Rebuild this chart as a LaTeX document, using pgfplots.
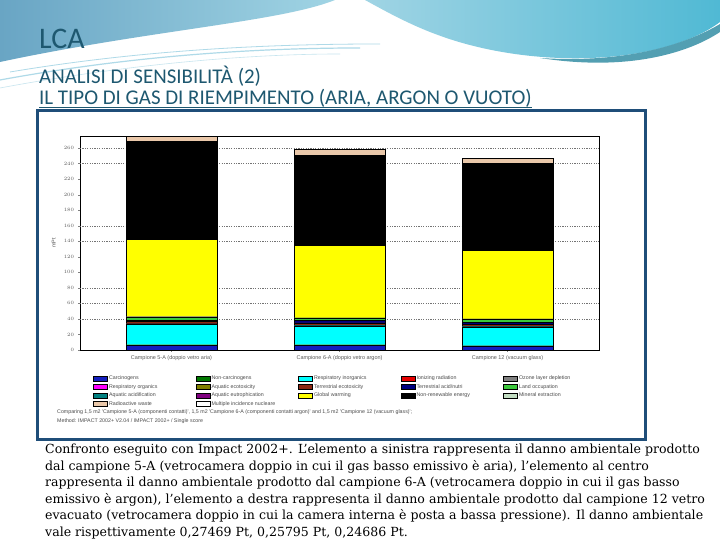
\documentclass[border=0pt]{standalone}
\usepackage{pgfplots}
\pgfplotsset{compat=1.18}
\usepackage{fontspec}
\setmainfont{DejaVu Serif}
\newfontfamily\titlefont{Carlito}
\newfontfamily\chartfont{Liberation Sans}

\definecolor{titleblue}{RGB}{30,88,112}
\definecolor{boxblue}{RGB}{31,78,121}
\definecolor{decoA}{RGB}{105,165,196}
\definecolor{decoB}{RGB}{160,212,228}
\definecolor{decoC}{RGB}{80,185,212}
\definecolor{decoL}{RGB}{175,218,232}
\definecolor{cCarc}{RGB}{20,30,190}
\definecolor{cNonc}{RGB}{0,120,0}
\definecolor{cRespI}{RGB}{0,255,255}
\definecolor{cIon}{RGB}{230,0,0}
\definecolor{cOzone}{RGB}{128,128,128}
\definecolor{cRespO}{RGB}{255,0,255}
\definecolor{cAqEco}{RGB}{128,128,0}
\definecolor{cTerEco}{RGB}{140,40,20}
\definecolor{cTerAc}{RGB}{0,0,128}
\definecolor{cLand}{RGB}{60,200,60}
\definecolor{cAqAc}{RGB}{0,128,128}
\definecolor{cAqEu}{RGB}{128,0,128}
\definecolor{cGW}{RGB}{255,255,0}
\definecolor{cNRE}{RGB}{0,0,0}
\definecolor{cMin}{RGB}{195,222,195}
\definecolor{cRad}{RGB}{234,200,170}

\newcommand{\lt}[1]{\makebox[85bp][l]{#1}}

\begin{document}
\begin{tikzpicture}[x=1bp,y=1bp]
\useasboundingbox (0,0) rectangle (720,540);
\fill[white] (0,0) rectangle (720,540);

\begin{scope}[yshift=540bp, yscale=-1]
% slide decoration
\shade[left color=decoA, right color=decoB]
  (0,0) -- (335,0) .. controls (280,22) and (150,30) .. (0,62) -- cycle;
\shade[left color=decoB, right color=decoC]
  (365,0) -- (720,0) -- (720,22) .. controls (680,52) and (600,66) .. (515,54)
  .. controls (445,44) and (405,22) .. (365,0) -- cycle;
\fill[decoC!80!black!90]
  (540,58) .. controls (630,64) and (690,42) .. (720,24) -- (720,32)
  .. controls (690,52) and (630,72) .. (540,58) -- cycle;
\draw[decoL, line width=1.2bp] (0,80) .. controls (120,58) and (240,48) .. (360,48);
\draw[decoL, line width=0.8bp] (10,72) .. controls (130,52) and (250,44) .. (380,44);
\draw[decoL!70!white, line width=0.6bp] (0,88) .. controls (140,62) and (260,54) .. (340,54);

% titles
\node[anchor=base west, inner sep=0, text=titleblue, font=\titlefont\fontsize{30}{30}\selectfont] at (39,49) {LCA};
\node[anchor=base west, inner sep=0, text=titleblue, font=\titlefont\fontsize{21}{21}\selectfont] at (39,84) {ANALISI DI SENSIBILITÀ (2)};
\node[anchor=base west, inner sep=0, text=titleblue, font=\titlefont\fontsize{21}{21}\selectfont] (t3) at (39,105) {IL TIPO DI GAS DI RIEMPIMENTO (ARIA, ARGON O VUOTO)};
\draw[titleblue, line width=1.1bp] (39,107.5) -- (t3.east |- 0,107.5);

% frame round the chart
\draw[boxblue, line width=3bp] (37,111) rectangle (645,440);

% footnote of the chart
\node[anchor=base west, inner sep=0, text=black!70, font=\chartfont\fontsize{5.3}{6}\selectfont] at (57,414)
  {Comparing 1,5 m2 'Campione 5-A (componenti contatti)', 1,5 m2 'Campione 6-A (componenti contatti argon)' and 1,5 m2 'Campione 12 (vacuum glass)';};
\node[anchor=base west, inner sep=0, text=black!70, font=\chartfont\fontsize{5.3}{6}\selectfont] at (57,423)
  {Method: IMPACT 2002+ V2.04 / IMPACT 2002+ / Single score};

% text under the chart
\begin{scope}[every node/.style={anchor=base west, inner sep=0, font=\fontsize{12.6}{15}\selectfont}]
\node at (45,454) {Confronto eseguito con Impact 2002+. L'elemento a sinistra rappresenta il danno ambientale prodotto};
\node at (45,470.5) {dal campione 5-A (vetrocamera doppio in cui il gas basso emissivo è aria), l'elemento al centro};
\node at (45,487) {rappresenta il danno ambientale prodotto dal campione 6-A (vetrocamera doppio in cui il gas basso};
\node at (45,503.5) {emissivo è argon), l'elemento a destra rappresenta il danno ambientale prodotto dal campione 12 vetro};
\node at (45,520) {evacuato (vetrocamera doppio in cui la camera interna è posta a bassa pressione). Il danno ambientale};
\node at (45,536.5) {vale rispettivamente 0,27469 Pt, 0,25795 Pt, 0,24686 Pt.};
\end{scope}
\end{scope}

\begin{axis}[
  at={(80bp,190bp)}, anchor=south west,
  width=519bp, height=214bp, scale only axis,
  ybar stacked, bar width=0.54,
  xmin=-0.544, xmax=2.544, ymin=0, ymax=275.5,
  xtick={0,1,2},
  xticklabels={Campione 5-A (doppio vetro aria), Campione 6-A (doppio vetro argon), Campione 12 (vacuum glass)},
  ytick={0,20,...,260},
  extra y ticks={40,60,80,140,160,240,260}, extra y tick labels={},
  extra y tick style={grid=major, major tick length=0pt},
  grid style={dash pattern=on 1.2bp off 1.2bp, black!55, line width=0.4bp},
  tick label style={font=\chartfont\fontsize{5.5}{6}\selectfont, text=black!65},
  ylabel={mPt}, ylabel style={font=\chartfont\fontsize{5.5}{6}\selectfont, text=black!65, at={(axis description cs:-0.04,0.5)}},
  axis line style={line width=0.6bp},
  major tick length=2bp, tick align=outside, ytick pos=left, xtick pos=bottom,
  yticklabel style={xshift=-0.5bp},
  legend columns=5,
  legend cell align=left,
  legend style={at={(axis description cs:0.025,-0.112)}, anchor=north west, draw=none, fill=none,
    inner sep=0pt, row sep=0pt, column sep=0pt,
    font=\chartfont\fontsize{5.3}{6}\selectfont, text=black!70,
    nodes={inner sep=1.6bp}},
  legend image code/.code={\draw[#1, draw=black, line width=0.3bp] (0bp,-2.6bp) rectangle (14bp,2.6bp);},
  every axis plot/.append style={draw=black, line width=0.25bp},
]
\addplot[fill=cCarc] coordinates {(0,6.4) (1,6.4) (2,5.2)};
\addlegendentry{\lt{Carcinogens}}
\addplot[fill=cNonc] coordinates {(0,0.5) (1,0.5) (2,0.4)};
\addlegendentry{\lt{Non-carcinogens}}
\addplot[fill=cRespI] coordinates {(0,26.6) (1,24.4) (2,24.4)};
\addlegendentry{\lt{Respiratory inorganics}}
\addplot[fill=cIon] coordinates {(0,0.3) (1,0.3) (2,0.3)};
\addlegendentry{\lt{Ionizing radiation}}
\addplot[fill=cOzone] coordinates {(0,0.05) (1,0.05) (2,0.05)};
\addlegendentry{\lt{Ozone layer depletion}}
\addplot[fill=cRespO] coordinates {(0,0.1) (1,0.1) (2,0.1)};
\addlegendentry{\lt{Respiratory organics}}
\addplot[fill=cAqEco] coordinates {(0,0.2) (1,0.2) (2,0.2)};
\addlegendentry{\lt{Aquatic ecotoxicity}}
\addplot[fill=cTerEco] coordinates {(0,2.4) (1,3.0) (2,2.2)};
\addlegendentry{\lt{Terrestrial ecotoxicity}}
\addplot[fill=cTerAc] coordinates {(0,1.8) (1,3.2) (2,2.8)};
\addlegendentry{\lt{Terrestrial acid/nutri}}
\addplot[fill=cLand] coordinates {(0,4.3) (1,3.1) (2,4.2)};
\addlegendentry{\lt{Land occupation}}
\addplot[fill=cAqAc] coordinates {(0,0.1) (1,0.1) (2,0.1)};
\addlegendentry{\lt{Aquatic acidification}}
\addplot[fill=cAqEu] coordinates {(0,0.05) (1,0.05) (2,0.05)};
\addlegendentry{\lt{Aquatic eutrophication}}
\addplot[fill=cGW] coordinates {(0,99.4) (1,93.1) (2,88.0)};
\addlegendentry{\lt{Global warming}}
\addplot[fill=cNRE] coordinates {(0,126.2) (1,116.2) (2,112.4)};
\addlegendentry{\lt{Non-renewable energy}}
\addplot[fill=cMin] coordinates {(0,0.3) (1,0.3) (2,0.3)};
\addlegendentry{\lt{Mineral extraction}}
\addplot[fill=cRad] coordinates {(0,6.4) (1,7.3) (2,6.4)};
\addlegendentry{\lt{Radioactive waste}}
\addplot[fill=white] coordinates {(0,0) (1,0) (2,0)};
\addlegendentry{\lt{Multiple incidence nucleare}}
\end{axis}
\end{tikzpicture}
\end{document}
